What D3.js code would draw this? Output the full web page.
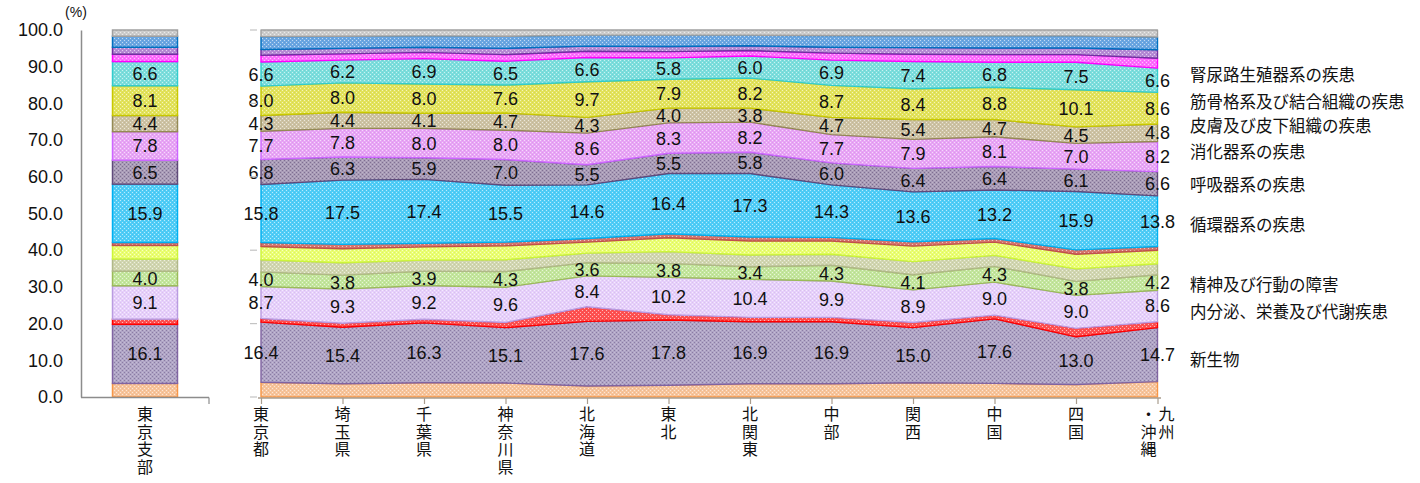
<!DOCTYPE html>
<html>
<head>
<meta charset="utf-8">
<script src="https://cdn.jsdelivr.net/npm/d3@7"></script>
<style>
  body { margin: 0; background: #fff; }
  svg { display: block; }
  text { font-family: "Liberation Sans", Arial, sans-serif; fill: #111; }
  .jp { font-family: "Noto Sans CJK JP", "Noto Sans CJK SC", sans-serif; }
  .vt { writing-mode: vertical-rl; text-orientation: upright; }
</style>
</head>
<body>
<svg id="chart" width="1420" height="483"></svg>
<script>
// ---- data (%, share of medical cost by disease chapter) ----
const regions = ["東京都", "埼玉県", "千葉県", "神奈川県", "北海道", "東北", "北関東", "中部", "関西", "中国", "四国", "九州・沖縄"];
const branchLabel = "東京支部";
const yTicks = [0, 10, 20, 30, 40, 50, 60, 70, 80, 90, 100];

// stacked bottom -> top
const seriesNames = [
  "感染症及び寄生虫症", "新生物", "血液及び造血器の疾患", "内分泌、栄養及び代謝疾患",
  "精神及び行動の障害", "神経系の疾患", "眼及び付属器の疾患", "耳及び乳様突起の疾患",
  "循環器系の疾患", "呼吸器系の疾患", "消化器系の疾患", "皮膚及び皮下組織の疾患",
  "筋骨格系及び結合組織の疾患", "腎尿路生殖器系の疾患", "妊娠、分娩及び産じょく",
  "先天奇形等", "症状、徴候等", "損傷、中毒及びその他"
];

const infection      = [4.0, 3.6, 3.9, 3.8, 3.0, 3.2, 3.6, 3.6, 3.9, 3.7, 3.4, 4.2];
const neoplasm       = [16.4, 15.4, 16.3, 15.1, 17.6, 17.8, 16.9, 16.9, 15.0, 17.6, 13.0, 14.7];
const blood          = [1.0, 1.1, 1.0, 1.4, 4.0, 1.4, 1.2, 1.2, 1.4, 1.0, 2.3, 1.6];
const endocrine      = [8.7, 9.3, 9.2, 9.6, 8.4, 10.2, 10.4, 9.9, 8.9, 9.0, 9.0, 8.6];
const mental         = [4.0, 3.8, 3.9, 4.3, 3.6, 3.8, 3.4, 4.3, 4.1, 4.3, 3.8, 4.2];
const nervous        = [3.3, 3.4, 3.0, 3.2, 2.6, 3.2, 3.2, 3.0, 3.6, 3.0, 3.4, 3.0];
const eye            = [3.6, 3.8, 3.6, 3.8, 3.0, 3.8, 3.8, 3.6, 4.2, 3.6, 4.0, 3.7];
const ear            = [1.1, 1.2, 1.0, 1.0, 1.0, 1.1, 1.1, 1.0, 1.2, 1.0, 1.2, 1.0];
const circulatory    = [15.8, 17.5, 17.4, 15.5, 14.6, 16.4, 17.3, 14.3, 13.6, 13.2, 15.9, 13.8];
const respiratory    = [6.8, 6.3, 5.9, 7.0, 5.5, 5.5, 5.8, 6.0, 6.4, 6.4, 6.1, 6.6];
const digestive      = [7.7, 7.8, 8.0, 8.0, 8.6, 8.3, 8.2, 7.7, 7.9, 8.1, 7.0, 8.2];
const skin           = [4.3, 4.4, 4.1, 4.7, 4.3, 4.0, 3.8, 4.7, 5.4, 4.7, 4.5, 4.8];
const musculoskeletal= [8.0, 8.0, 8.0, 7.6, 9.7, 7.9, 8.2, 8.7, 8.4, 8.8, 10.1, 8.6];
const genitourinary  = [6.6, 6.2, 6.9, 6.5, 6.6, 5.8, 6.0, 6.9, 7.4, 6.8, 7.5, 6.6];
const pregnancy      = [1.8, 1.7, 1.7, 1.8, 1.7, 1.7, 1.5, 1.9, 2.0, 2.1, 2.1, 2.7];
const congenital     = [1.6, 1.5, 1.4, 1.7, 1.4, 1.4, 1.3, 1.6, 1.8, 1.8, 1.8, 2.3];
const symptoms       = [3.5, 3.3, 3.1, 3.3, 3.0, 3.1, 2.9, 3.2, 3.2, 3.3, 3.3, 3.5];
const others         = [1.8, 1.7, 1.6, 1.7, 1.4, 1.4, 1.4, 1.5, 1.6, 1.6, 1.6, 1.9];

// 東京支部 single bar, same order
const branchValues = [3.7, 16.1, 1.4, 9.1, 4.0, 3.3, 3.7, 0.8, 15.9, 6.5, 7.8, 4.4, 8.1, 6.6, 2.0, 1.9, 3.0, 1.7];

// series whose values are printed, and the legend text beside the last region
const labelledSeries = [1, 3, 4, 8, 9, 10, 11, 12, 13];
const legendNames = ["新生物", "内分泌、栄養及び代謝疾患", "精神及び行動の障害", "循環器系の疾患",
  "呼吸器系の疾患", "消化器系の疾患", "皮膚及び皮下組織の疾患", "筋骨格系及び結合組織の疾患", "腎尿路生殖器系の疾患"];
const legendAt = [10.1, 23.2, 30.5, 46.9, 57.8, 66.8, 73.8, 80.4, 87.7];

const allSeries = [infection, neoplasm, blood, endocrine, mental, nervous, eye, ear, circulatory,
  respiratory, digestive, skin, musculoskeletal, genitourinary, pregnancy, congenital, symptoms, others];

// fill / border / dot colour per series
const fills   = ["#f8c49a", "#b0a5c6", "#ff5050", "#e6cffb", "#c3e69c", "#d1d6b0", "#eaff70", "#d8766c",
                 "#4fcdf8", "#a99cb7", "#e8a4f6", "#cdc2a3", "#e3e35a", "#7bdedd", "#ff6cff", "#b68ad6",
                 "#6aa6e2", "#cdcdcd"];
const borders = ["#f79646", "#8064a2", "#ff0000", "#b99be0", "#9bbb59", "#b0b888", "#ccf53a", "#c0504d",
                 "#00b0f0", "#604a7b", "#cc66ff", "#948a54", "#c8c800", "#33cccc", "#ff00ff", "#7030a0",
                 "#0070c0", "#a0a0a0"];
const dots    = ["#fff", "#6b5a86", "#fff", "#fff", "#fff", "#fff", "#fff", "#fff",
                 "#fff", "#5a4a70", "#fff", "#fff", "#fff", "#fff", "#fff", "#fff",
                 "#fff", "#fff"];

// ---- layout ----
const svg = d3.select("#chart");
const y = d3.scaleLinear().domain([0, 100]).range([397, 30]);
const xr = d3.scalePoint().domain(regions).range([261, 1157.5]);
const xb = d3.scaleBand().domain([branchLabel]).range([81, 209]).paddingInner(0).paddingOuter(0.485);

// textured fills
const defs = svg.append("defs");
fills.forEach((c, i) => {
  const p = defs.append("pattern").attr("id", "pat" + i)
    .attr("patternUnits", "userSpaceOnUse").attr("width", 4).attr("height", 4);
  p.append("rect").attr("width", 4).attr("height", 4).attr("fill", c);
  const dark = dots[i] !== "#fff";
  [[0, 0], [2, 2]].forEach(([dx, dy]) =>
    p.append("rect").attr("x", dx).attr("y", dy).attr("width", 1).attr("height", 1)
      .attr("fill", dots[i]).attr("opacity", dark ? 0.55 : 0.6));
  [[2, 0], [0, 2]].forEach(([dx, dy]) =>
    p.append("rect").attr("x", dx).attr("y", dy).attr("width", 1).attr("height", 1)
      .attr("fill", dark ? "#fff" : "#000").attr("opacity", dark ? 0.25 : 0.06));
});

// ---- y axis ----
const yAxis = svg.append("g").attr("transform", "translate(81,0)")
  .call(d3.axisLeft(y).tickValues(yTicks).tickSize(0).tickPadding(18).tickFormat(d3.format(".1f")));
yAxis.select(".domain").attr("stroke", "#8c8c8c").attr("stroke-width", 1.5);
yAxis.selectAll("text").attr("font-size", 18).attr("fill", "#111")
  .attr("font-family", "'Liberation Sans', Arial, sans-serif");
svg.append("text").attr("x", 76).attr("y", 17).attr("text-anchor", "middle")
  .attr("font-size", 14).text("(%)");

// ---- 東京支部 bar ----
const bStack = d3.stack().keys(d3.range(branchValues.length)).value((d, k) => d[k])([branchValues]);
const bar = svg.append("g");
bStack.forEach((layer, i) => {
  const seg = layer[0];
  bar.append("rect")
    .attr("x", xb(branchLabel)).attr("width", xb.bandwidth())
    .attr("y", y(seg[1])).attr("height", y(seg[0]) - y(seg[1]))
    .attr("fill", `url(#pat${i})`).attr("stroke", borders[i]).attr("stroke-width", 1.5);
});
labelledSeries.forEach(i => {
  const seg = bStack[i][0];
  bar.append("text").attr("x", xb(branchLabel) + xb.bandwidth() / 2)
    .attr("y", y((seg[0] + seg[1]) / 2)).attr("dy", "0.36em")
    .attr("text-anchor", "middle").attr("font-size", 18)
    .text(d3.format(".1f")(branchValues[i]));
});
// bottom frame of the bar panel
svg.append("line").attr("x1", 81).attr("x2", 209).attr("y1", 397.5).attr("y2", 397.5)
  .attr("stroke", "#8c8c8c").attr("stroke-width", 1.5);
svg.append("line").attr("x1", 209).attr("x2", 209).attr("y1", 397.5).attr("y2", 404)
  .attr("stroke", "#8c8c8c").attr("stroke-width", 1.2);

// vertical (top-to-bottom) category text
function verticalLabel(g, x, text) {
  g.append("text").attr("class", "jp vt").attr("x", x).attr("y", 406)
    .attr("font-size", 16).attr("letter-spacing", 1.5).text(text);
}
verticalLabel(svg, xb(branchLabel) + xb.bandwidth() / 2, branchLabel);

// ---- regional stacked areas ----
const rows = regions.map((r, j) => {
  const o = { region: r };
  allSeries.forEach((s, i) => o[i] = s[j]);
  return o;
});
const stack = d3.stack().keys(d3.range(allSeries.length))(rows);
const area = d3.area().x(d => xr(d.data.region)).y0(d => y(d[0])).y1(d => y(d[1]));
const areas = svg.append("g");
stack.forEach((layer, i) => {
  areas.append("path").attr("d", area(layer))
    .attr("fill", `url(#pat${i})`).attr("stroke", borders[i]).attr("stroke-width", 1.4)
    .attr("stroke-linejoin", "round");
});

// value labels
const vlab = svg.append("g");
labelledSeries.forEach(i => {
  stack[i].forEach((d, j) => {
    vlab.append("text").attr("x", xr(regions[j]))
      .attr("y", y((d[0] + d[1]) / 2)).attr("dy", "0.36em")
      .attr("text-anchor", "middle").attr("font-size", 18)
      .text(d3.format(".1f")(allSeries[i][j]));
  });
});

// left faint ticks of the regional panel
svg.append("g").selectAll("line").data(d3.range(0, 101, 20)).join("line")
  .attr("x1", 250).attr("x2", 257).attr("y1", d => y(d)).attr("y2", d => y(d))
  .attr("stroke", "#c4c4c4").attr("stroke-width", 1.2);

// category axis
const xAxis = svg.append("g").attr("transform", "translate(0,398)")
  .call(d3.axisBottom(xr).tickSize(6).tickFormat(""));
xAxis.select(".domain").attr("d", "M258,0H1161").attr("stroke", "#a89d8e").attr("stroke-width", 1.5);
xAxis.selectAll(".tick line").attr("stroke", "#a89d8e").attr("stroke-width", 1.2);

const xl = svg.append("g");
regions.forEach(r => {
  const cut = r.indexOf("・");
  const cols = cut >= 0 ? [r.slice(0, cut), r.slice(cut)] : [r];
  cols.forEach((col, c) => {
    const cx = xr(r) + (cols.length > 1 ? (c === 0 ? 9 : -9) : 0);
    verticalLabel(xl, cx, col);
  });
});

// legend text at the right end
legendNames.forEach((name, k) =>
  svg.append("text").attr("class", "jp").attr("x", 1190).attr("y", y(legendAt[k]))
    .attr("dy", "0.36em").attr("font-size", 16.5).text(name));
</script>
</body>
</html>
